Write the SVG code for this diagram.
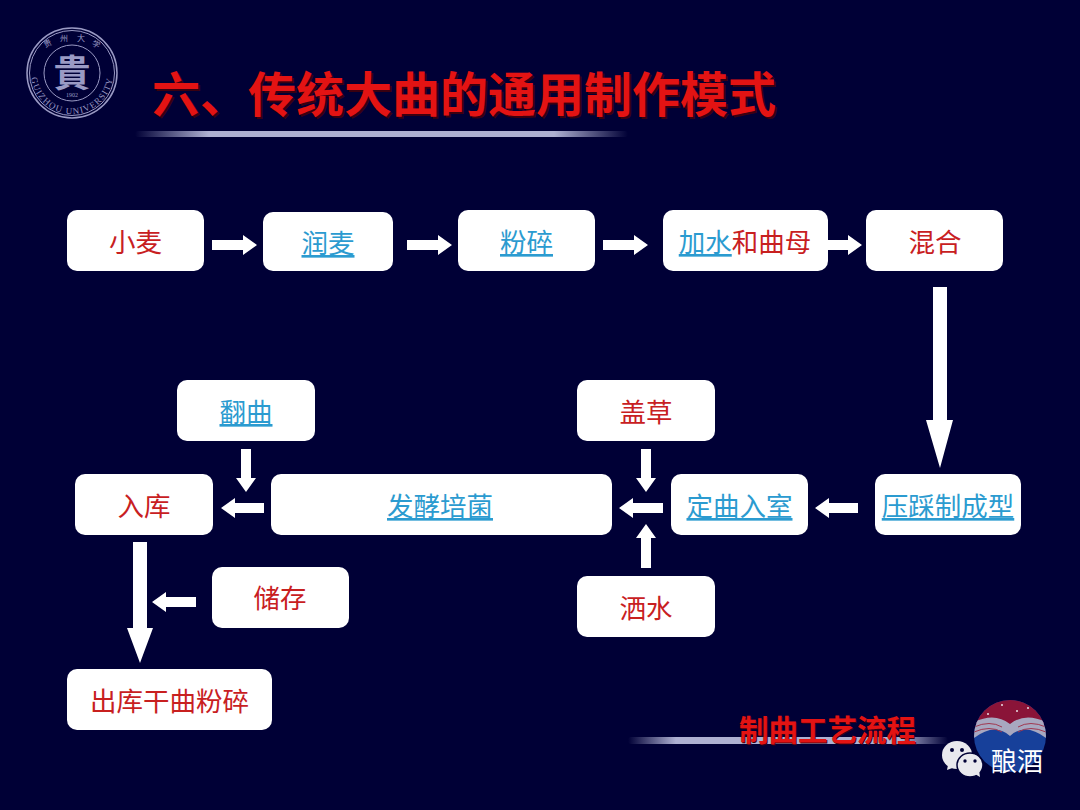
<svg xmlns="http://www.w3.org/2000/svg" width="1080" height="810" viewBox="0 0 1080 810">
<style>
.box{fill:#fff}
.t{font-family:"Noto Sans CJK SC","Liberation Serif",serif;font-size:26.5px;text-anchor:middle;fill:#c8201f}
.l{fill:#2b9bd0;text-decoration:underline}
.arrow{fill:#fff}
.title{font-family:"Noto Sans CJK SC",sans-serif;font-weight:700;fill:#e31313}
.seal{fill:none;stroke:#9a9ac4}
.sealt{font-family:"Liberation Serif",serif;fill:#9a9ac4;text-anchor:middle}
.sealc{font-family:"Noto Sans CJK SC",sans-serif;fill:#9a9ac4;text-anchor:middle}
</style>
<defs>
<linearGradient id="bar"><stop offset="0" stop-color="#aeb0d2" stop-opacity="0"/><stop offset=".15" stop-color="#aeb0d2"/><stop offset=".85" stop-color="#aeb0d2"/><stop offset="1" stop-color="#aeb0d2" stop-opacity="0"/></linearGradient>
<clipPath id="logoClip"><circle cx="1010" cy="736" r="36"/></clipPath>
<path id="sealBottom" d="M31 73A41 41 0 0 0 113 73"/>
</defs>
<rect width="1080" height="810" fill="#000036"/>
<g id="seal">
<circle class="seal" cx="72" cy="73" r="45" stroke-width="1.5"/>
<circle class="seal" cx="72" cy="73" r="42.500" stroke-width="1"/>
<circle class="seal" cx="72" cy="73" r="28" stroke-width="1"/>
<text class="sealc" font-size="37" x="72" y="87" font-weight="700" style="font-family:'Noto Sans CJK TC',sans-serif">貴</text>
<text class="sealt" font-size="6" x="72" y="97">1902</text>
<text class="sealc" font-size="8" x="49" y="46" transform="rotate(-25 49 46)">贵</text>
<text class="sealc" font-size="8" x="64" y="41">州</text>
<text class="sealc" font-size="8" x="81" y="41">大</text>
<text class="sealc" font-size="8" x="95" y="47" transform="rotate(25 95 47)">学</text>
<text class="sealt" font-size="9" letter-spacing="1.200"><textPath href="#sealBottom" startOffset="50%">GUIZHOU UNIVERSITY</textPath></text>
</g>
<g id="title">
<text class="title" x="152" y="112" font-size="48" style="fill:#3a0010" transform="translate(2 2)">六、传统大曲的通用制作模式</text>
<text class="title" x="152" y="112" font-size="48">六、传统大曲的通用制作模式</text>
<rect x="135" y="131" width="493" height="6" rx="3" fill="url(#bar)"/>
</g>
<g id="connectors">
<polygon class="arrow" points="212,240 243,240 243,235 257,245 243,255 243,250 212,250"/>
<polygon class="arrow" points="407,240 438,240 438,235 452,245 438,255 438,250 407,250"/>
<polygon class="arrow" points="603,240 634,240 634,235 648,245 634,255 634,250 603,250"/>
<polygon class="arrow" points="828,240 848,240 848,235 862,245 848,255 848,250 828,250"/>
<polygon class="arrow" points="933,287 947,287 947,420 953,420 940,468 926,420 933,420"/>
<polygon class="arrow" points="858,503 829,503 829,498 815,508 829,518 829,513 858,513"/>
<polygon class="arrow" points="663,503 633,503 633,498 619,508 633,518 633,513 663,513"/>
<polygon class="arrow" points="264,503 235,503 235,498 221,508 235,518 235,513 264,513"/>
<polygon class="arrow" points="241,449 251,449 251,478 256,478 246,492 236,478 241,478"/>
<polygon class="arrow" points="641,449 651,449 651,478 656,478 646,492 636,478 641,478"/>
<polygon class="arrow" points="641,568 651,568 651,538 656,538 646,524 636,538 641,538"/>
<polygon class="arrow" points="133,542 147,542 147,628 153,628 140,663 127,628 133,628"/>
<polygon class="arrow" points="196,597 166,597 166,592 152,602 166,612 166,607 196,607"/>
</g>
<g id="n1"><rect class="box" x="67" y="210" width="137" height="61" rx="10"/><text class="t" x="135.500" y="252">小麦</text></g>
<g id="n2"><rect class="box" x="263" y="212" width="130" height="59" rx="10"/><text class="t" x="328" y="253"><tspan class="l">润麦</tspan></text></g>
<g id="n3"><rect class="box" x="458" y="210" width="137" height="61" rx="10"/><text class="t" x="526.500" y="252"><tspan class="l">粉碎</tspan></text></g>
<g id="n4"><rect class="box" x="663" y="210" width="165" height="61" rx="10"/><text class="t" x="745" y="252"><tspan class="l">加水</tspan>和曲母</text></g>
<g id="n5"><rect class="box" x="866" y="210" width="137" height="61" rx="10"/><text class="t" x="935" y="252">混合</text></g>
<g id="n6"><rect class="box" x="177" y="380" width="138" height="61" rx="10"/><text class="t" x="246" y="422"><tspan class="l">翻曲</tspan></text></g>
<g id="n7"><rect class="box" x="577" y="380" width="138" height="61" rx="10"/><text class="t" x="646" y="422">盖草</text></g>
<g id="n8"><rect class="box" x="75" y="474" width="138" height="61" rx="10"/><text class="t" x="144" y="516">入库</text></g>
<g id="n9"><rect class="box" x="271" y="474" width="341" height="61" rx="10"/><text class="t" x="440" y="516"><tspan class="l">发酵培菌</tspan></text></g>
<g id="n10"><rect class="box" x="671" y="474" width="137" height="61" rx="10"/><text class="t" x="739.500" y="516"><tspan class="l">定曲入室</tspan></text></g>
<g id="n11"><rect class="box" x="875" y="474" width="146" height="61" rx="10"/><text class="t" x="948" y="516"><tspan class="l">压踩制成型</tspan></text></g>
<g id="n12"><rect class="box" x="212" y="567" width="137" height="61" rx="10"/><text class="t" x="280" y="608">储存</text></g>
<g id="n13"><rect class="box" x="577" y="576" width="138" height="61" rx="10"/><text class="t" x="646" y="618">洒水</text></g>
<g id="n14"><rect class="box" x="67" y="669" width="205" height="61" rx="10"/><text class="t" x="169.500" y="711">出库干曲粉碎</text></g>
<g id="footer">
<rect x="628" y="737" width="320" height="7" rx="3" fill="url(#bar)"/>
<text class="title" x="739" y="741" font-size="29.500" style="fill:#3a0010" transform="translate(1 1)">制曲工艺流程</text>
<text class="title" x="739" y="741" font-size="29.500">制曲工艺流程</text>
</g>
<g id="logo">
<g clip-path="url(#logoClip)">
<rect x="974" y="700" width="72" height="72" fill="#17409a"/>
<rect x="974" y="700" width="72" height="24" fill="#8a1438"/>
<path d="M974 722Q995 712 1010 724Q1025 712 1046 722V738Q1025 722 1010 736Q995 722 974 738Z" fill="#a8a8c0"/>
<path d="M974 727Q990 720 1002 727M974 732Q990 725 1002 732M1046 727Q1030 720 1018 727M1046 732Q1030 725 1018 732" fill="none" stroke="#a03850" stroke-width="1"/>
</g>
<g fill="#e8dfe6"><circle cx="1002" cy="705" r="1"/><circle cx="1017" cy="711" r="1"/><circle cx="1028" cy="708" r="1"/><circle cx="988" cy="714" r="1"/></g>
<g fill="#e9e9ee">
<ellipse cx="957" cy="755" rx="15" ry="14"/>
<polygon points="948,765 947,770 955,767"/>
<ellipse cx="970" cy="765" rx="13" ry="12" stroke="#000036" stroke-width="1.500"/>
<polygon points="975,774 980,777 979,770"/>
</g>
<g fill="#000036"><circle cx="952" cy="750" r="2"/><circle cx="962" cy="750" r="2"/><circle cx="965" cy="761" r="1.700"/><circle cx="975" cy="761" r="1.700"/></g>
<text x="991" y="771" font-size="26" style="font-family:'Noto Sans CJK SC',sans-serif" fill="#fff">酿酒</text>
</g>
</svg>
